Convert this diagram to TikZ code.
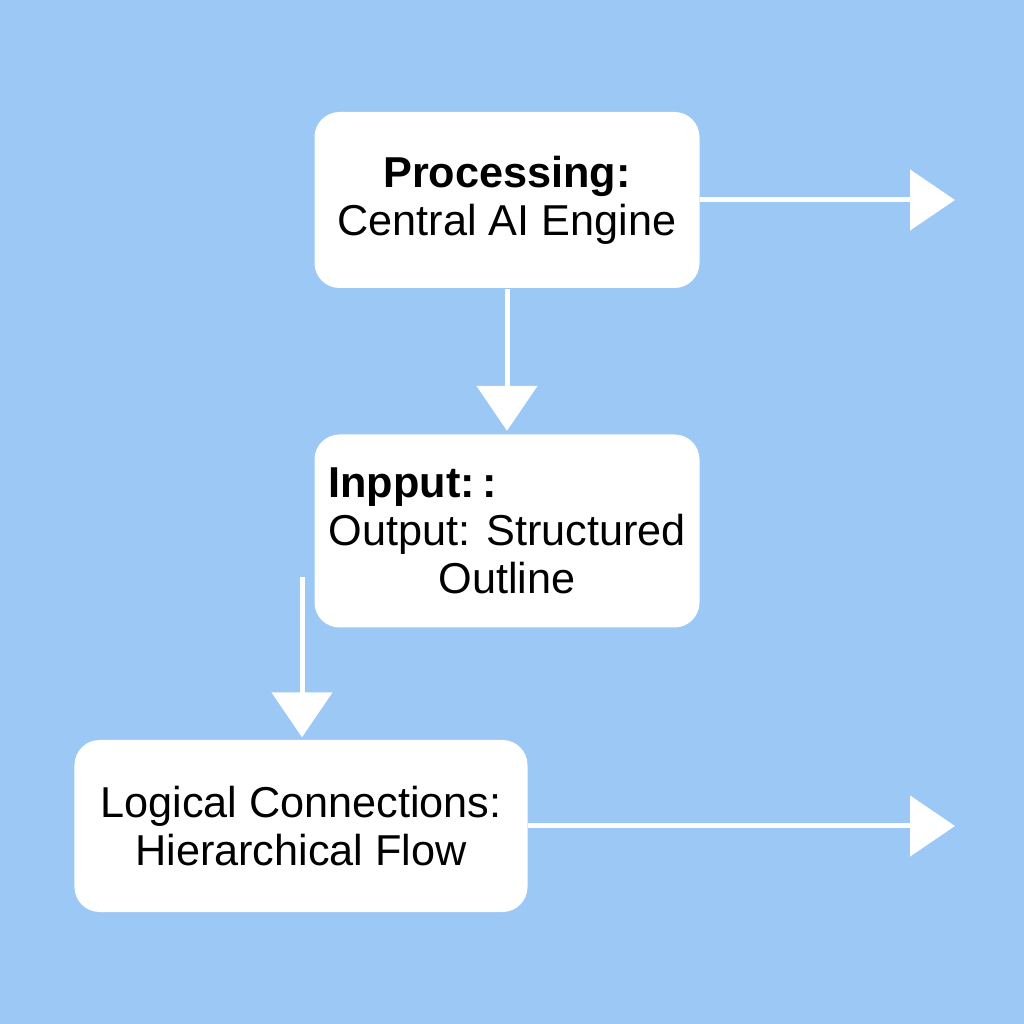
\documentclass[tikz,border=0pt]{standalone}
\usepackage{fontspec}
\usepackage{calc}
\setmainfont{Liberation Sans}
\usetikzlibrary{arrows.meta,positioning}
\definecolor{bgblue}{HTML}{9CC8F5}
\tikzset{
    stepbox/.style={draw=none, fill=white, rounded corners=0.25cm, align=center,
        font=\fontsize{12.3}{13.6}\selectfont},
    flow/.style={draw=white, line width=0.5mm,
        -{Triangle[width=0.6cm,length=0.45cm,fill=white]}},
}
\begin{document}
\begin{tikzpicture}
    \fill[bgblue] (0,0) rectangle (10.24,10.24);
    \useasboundingbox (0,0) rectangle (10.24,10.24);

    \node[stepbox, minimum width=3.85cm, minimum height=1.76cm] (proc) at (5.07,8.24)
        {\textbf{Processing:}\\Central AI Engine};
    \node[stepbox, minimum width=3.85cm, minimum height=1.93cm] (inout) at (5.07,4.93)
        {\makebox[\widthof{Output: Structured}][l]{\textbf{Inpput:\,:}}\\Output: Structured\\Outline};
    \node[stepbox, minimum width=4.53cm, minimum height=1.72cm] (logic) at (3.01,1.98)
        {Logical Connections:\\Hierarchical Flow};

    \coordinate (procout) at (9.55,8.24);
    \coordinate (logicout) at (9.55,1.98);
    \coordinate (side) at (3.02,4.47);

    \draw[flow] (proc.east) -- (procout);
    \draw[flow] (proc.south) -- ([yshift=0.03cm]inout.north);
    \draw[flow] (side) -- ([yshift=0.02cm]logic.north -| side);
    \draw[flow] (logic.east) -- (logicout);
\end{tikzpicture}
\end{document}
